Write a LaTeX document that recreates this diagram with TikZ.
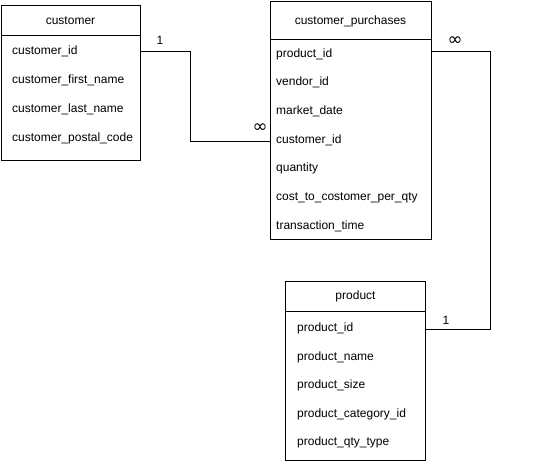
\documentclass[tikz,border=0pt]{standalone}
\usepackage{fontspec}
\setmainfont{Liberation Sans}
\newfontfamily\symfont{DejaVu Sans}
\begin{document}
\begin{tikzpicture}[x=1pt,y=-1pt,
  tbl/.style={draw,line width=1pt,inner sep=0pt},
  hdr/.style={font=\fontsize{12}{14}\selectfont,inner sep=0pt,anchor=center},
  row/.style={font=\fontsize{12}{14}\selectfont,inner sep=0pt,anchor=west},
  lbl/.style={font=\fontsize{12}{14}\selectfont,inner sep=0pt},
  inf/.style={font=\symfont\fontsize{18}{18}\selectfont,inner sep=0pt},
  conn/.style={draw,line width=1pt}]
\useasboundingbox (0,0) rectangle (534,461);
% customer
\node[tbl,minimum width=139pt,minimum height=155pt] (cust) at (70.5,82.5) {};
\draw[line width=1pt] (1,35) -- (140,35);
\node[hdr] (custh) at (70.5,21) {customer};
\node[row] (cid) at (12,51.5) {customer\_id};
\node[row] (cfn) at (12,80.5) {customer\_first\_name};
\node[row] (cln) at (12,109.5) {customer\_last\_name};
\node[row] (cpc) at (12,138.5) {customer\_postal\_code};
% customer_purchases
\node[tbl,minimum width=161pt,minimum height=238pt] (cp) at (350.5,120.5) {};
\draw[line width=1pt] (270,39) -- (431,39);
\node[hdr] (cph) at (350.5,21) {customer\_purchases};
\node[row] (cppid) at (276,54.5) {product\_id};
\node[row] (cpvid) at (276,82.5) {vendor\_id};
\node[row] (cpmd) at (276,111.5) {market\_date};
\node[row] (cpcid) at (276,140.5) {customer\_id};
\node[row] (cpq) at (276,168.5) {quantity};
\node[row] (cpcost) at (276,197.5) {cost\_to\_costomer\_per\_qty};
\node[row] (cptt) at (276,226.5) {transaction\_time};
% product
\node[tbl,minimum width=140pt,minimum height=179pt] (prod) at (355.5,370.5) {};
\draw[line width=1pt] (285.5,311) -- (425.5,311);
\node[hdr] (prodh) at (355.5,296) {product};
\node[row] (ppid) at (297,328.5) {product\_id};
\node[row] (ppn) at (297,357.5) {product\_name};
\node[row] (pps) at (297,385.5) {product\_size};
\node[row] (ppc) at (297,414.5) {product\_category\_id};
\node[row] (ppq) at (297,442.5) {product\_qty\_type};
% connectors
\coordinate (c1a) at (cust.east |- 0,51);
\coordinate (c1b) at (cp.west |- 0,141);
\draw[conn] (c1a) -- (190,51) -- (190,141) -- (c1b);
\node[lbl] at (160,40) {1};
\node[inf] at (260,128) {∞};
\coordinate (c2a) at (cp.east |- 0,51);
\coordinate (c2b) at (prod.east |- 0,329);
\draw[conn] (c2a) -- (490,51) -- (490,329) -- (c2b);
\node[inf] at (455,41) {∞};
\node[lbl] at (446,320) {1};
\end{tikzpicture}
\end{document}
